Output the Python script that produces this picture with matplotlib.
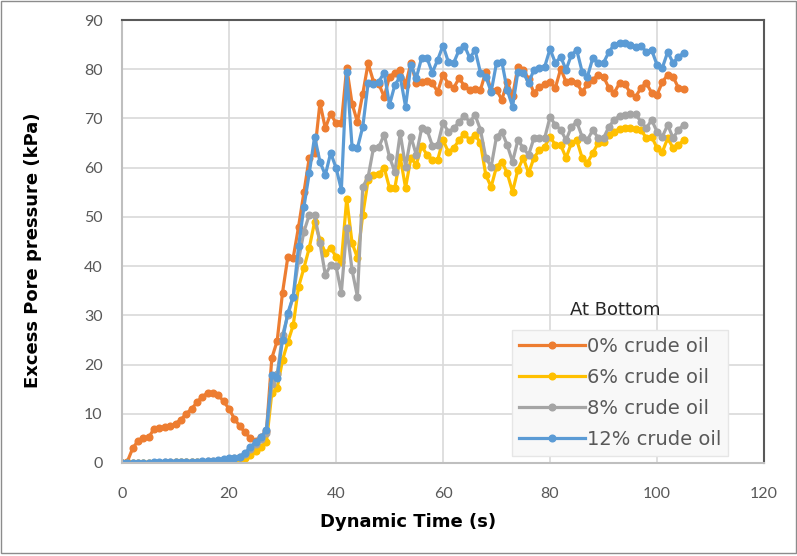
import numpy as np
import matplotlib
matplotlib.use("Agg")
import matplotlib.pyplot as plt

plt.rcParams['font.family'] = ['Lato', 'DejaVu Sans']

# sample times (s)
time_s = list(range(0, 106))

# excess pore pressure at bottom (kPa)
oil_0 = [0, 0.3, 3.0, 4.5, 5.0, 5.2, 7.0, 7.2, 7.3, 7.6,
         8.0, 8.8, 10.0, 11.0, 12.3, 13.5, 14.2, 14.3, 13.8, 12.5,
         11.0, 9.0, 7.5, 6.2, 5.0, 4.5, 5.2, 6.5, 21.3, 24.8,
         34.6, 41.9, 41.7, 48.0, 55.0, 62.0, 63.0, 73.2, 68.0, 71.0,
         69.0, 69.0, 80.3, 73.0, 69.3, 75.0, 81.2, 77.5, 77.0, 74.4,
         78.5, 79.2, 79.9, 76.8, 81.3, 77.2, 77.5, 77.6, 77.2, 75.4,
         78.9, 77.0, 76.2, 78.2, 76.6, 75.8, 76.0, 75.8, 79.5, 75.6,
         75.8, 73.8, 77.4, 74.5, 80.5, 79.9, 78.0, 75.2, 76.4, 77.0,
         77.4, 76.2, 80.1, 77.4, 77.6, 77.2, 75.4, 76.9, 77.8, 78.9,
         78.5, 76.2, 75.2, 77.2, 77.0, 75.2, 74.4, 76.2, 77.2, 75.2,
         74.8, 77.4, 78.9, 78.5, 76.2, 76.0]

oil_6 = [0, 0, 0, 0, 0, 0, 0, 0, 0, 0,
         0.1, 0.1, 0.1, 0.2, 0.2, 0.2, 0.3, 0.3, 0.4, 0.4,
         0.5, 0.7, 1.0, 1.0, 1.6, 2.5, 3.3, 4.3, 14.2, 15.2,
         20.9, 24.6, 28.0, 35.8, 39.6, 43.7, 49.0, 45.3, 42.7, 43.7,
         41.9, 40.9, 53.7, 44.7, 41.7, 50.4, 57.5, 58.5, 58.7, 60.0,
         55.9, 55.9, 62.2, 55.9, 62.0, 60.6, 64.4, 62.6, 61.6, 61.6,
         65.6, 63.2, 64.0, 65.6, 66.9, 65.6, 66.7, 65.0, 58.5, 56.1,
         60.2, 61.2, 58.9, 55.1, 59.6, 62.0, 58.9, 62.0, 63.6, 64.2,
         66.3, 64.6, 64.6, 62.0, 65.0, 65.6, 62.0, 61.0, 63.0, 65.0,
         65.2, 66.7, 67.3, 67.9, 68.0, 68.0, 67.9, 67.7, 66.0, 66.3,
         64.0, 63.2, 66.0, 64.0, 64.6, 65.6]

oil_8 = [0, 0, 0, 0, 0, 0, 0, 0, 0.1, 0.1,
         0.1, 0.1, 0.2, 0.2, 0.3, 0.3, 0.4, 0.4, 0.5, 0.6,
         0.8, 1.0, 1.2, 1.8, 2.8, 3.8, 4.8, 6.0, 16.0, 18.0,
         26.0, 30.0, 33.8, 41.3, 47.0, 50.4, 50.4, 44.7, 38.2, 40.2,
         40.0, 34.6, 47.8, 39.2, 33.8, 56.1, 58.1, 64.0, 64.2, 66.7,
         62.2, 59.1, 67.0, 60.2, 66.3, 62.6, 68.0, 67.7, 64.5, 64.6,
         69.1, 67.3, 68.0, 69.3, 70.5, 69.3, 70.7, 67.7, 62.0, 60.2,
         66.3, 67.3, 64.6, 61.2, 65.6, 64.0, 62.6, 66.0, 66.0, 66.0,
         70.3, 68.7, 67.7, 65.6, 68.3, 69.3, 66.3, 65.6, 67.7, 66.0,
         66.0, 68.3, 69.7, 70.5, 70.7, 70.9, 70.9, 69.3, 68.0, 69.7,
         67.3, 66.3, 68.7, 66.0, 67.7, 68.7]

oil_12 = [0, 0, 0, 0, 0, 0, 0.1, 0.1, 0.1, 0.1,
          0.1, 0.2, 0.2, 0.3, 0.3, 0.4, 0.5, 0.5, 0.6, 0.8,
          1.0, 1.1, 1.3, 2.0, 3.2, 4.3, 5.3, 6.7, 17.9, 17.3,
          25.0, 30.5, 33.8, 44.0, 52.0, 58.9, 66.3, 61.2, 58.5, 63.0,
          60.0, 55.5, 79.5, 64.2, 64.0, 68.3, 77.2, 77.0, 77.5, 79.3,
          72.8, 76.8, 78.5, 72.4, 80.9, 78.2, 82.3, 82.3, 79.3, 81.9,
          84.8, 81.5, 81.3, 83.9, 84.8, 82.3, 83.9, 79.3, 78.5, 75.4,
          81.3, 81.5, 75.8, 72.4, 79.5, 79.3, 77.2, 79.9, 80.3, 80.5,
          84.1, 81.3, 82.5, 79.9, 82.9, 83.9, 79.5, 78.5, 82.3, 81.3,
          81.3, 83.5, 85.0, 85.4, 85.4, 85.0, 84.6, 84.8, 83.5, 83.9,
          80.9, 80.3, 83.5, 81.3, 82.5, 83.3]

labels = ['0% crude oil', '6% crude oil', '8% crude oil', '12% crude oil']
colors = ['#ED7D31', '#FFC000', '#A5A5A5', '#5B9BD5']

fig = plt.figure(figsize=(7.97, 5.56), dpi=100)
ax = fig.add_axes([0.1531, 0.1673, 0.8055, 0.7967])

for series, lab, col in zip([oil_0, oil_6, oil_8, oil_12], labels, colors):
    ax.plot(time_s, series, color=col, lw=2.3, marker='o', ms=4.8,
            mec=col, mfc=col, label=lab)

ax.set_xlim(0, 120)
ax.set_ylim(0, 90)
ax.set_xticks(np.arange(0, 121, 20))
ax.set_yticks(np.arange(0, 91, 10))
ax.grid(True, color='#D9D9D9', lw=1.2)
ax.set_axisbelow(True)
ax.tick_params(length=0, labelsize=11.5, labelcolor='#595959')
ax.tick_params(axis='x', pad=17)
ax.tick_params(axis='y', pad=14)

for side in ['left', 'bottom']:
    ax.spines[side].set_color('#BFBFBF')
    ax.spines[side].set_linewidth(1.5)
for side in ['top', 'right']:
    ax.spines[side].set_color('#595959')
    ax.spines[side].set_linewidth(1.5)

fig.text(0.512, 0.062, 'Dynamic Time (s)', ha='center', va='center',
         fontsize=13, fontweight='bold', color='#000000',
         family='DejaVu Sans')
fig.text(0.042, 0.55, 'Excess Pore pressure (kPa)', ha='center', va='center',
         rotation=90, fontsize=13, fontweight='bold', color='#000000',
         family='DejaVu Sans')

# legend block with its heading
ax.text(0.768, 0.345, 'At Bottom', transform=ax.transAxes, ha='center',
        va='center', fontsize=13, color='#262626', family='DejaVu Sans')
leg = ax.legend(loc='upper left', bbox_to_anchor=(0.607, 0.30),
                borderaxespad=0, prop={'family': 'DejaVu Sans', 'size': 14},
                handlelength=3.4, handletextpad=0.1, labelspacing=0.62,
                borderpad=0.35, numpoints=1, frameon=True, fancybox=False)
leg.get_frame().set_facecolor('#F8F8F8')
leg.get_frame().set_edgecolor('#E6E6E6')
leg.get_frame().set_alpha(1)
for txt in leg.get_texts():
    txt.set_color('#595959')

# outer chart border
fig.patches.append(plt.Rectangle((0.001, 0.006), 0.998, 0.993,
                                 transform=fig.transFigure, fill=False,
                                 edgecolor='#8C8C8C', lw=1.0))

fig.savefig('out.png', dpi=100)
